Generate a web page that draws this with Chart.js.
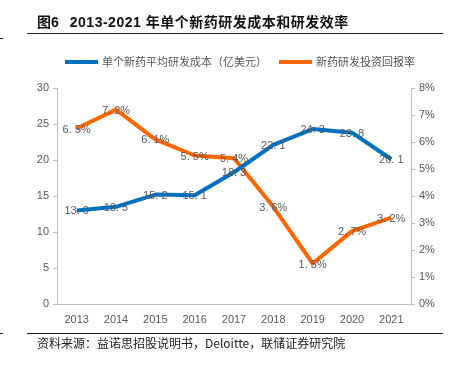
<!DOCTYPE html>
<html>
<head>
<meta charset="utf-8">
<script src="https://cdn.jsdelivr.net/npm/chart.js@4"></script>
<style>
  body { margin: 0; background: #fff; }
  #wrap { position: relative; width: 452px; height: 366px; overflow: hidden; font-family: "Liberation Sans", Arial, "Noto Sans CJK SC", sans-serif; }
  #chart { position: absolute; left: 0; top: 0; }
  .abs { position: absolute; white-space: nowrap; }
  .title { left: 37px; top: 11px; font-size: 14px; font-weight: bold; color: #111; }
  .title span { margin-left: 11px; letter-spacing: 0.5px; }
  .rule { height: 1px; background: #222; }
  .legend { top: 53px; font-size: 11px; color: #595959; font-family: "Noto Sans CJK SC", sans-serif; }
  .legend i { display: inline-block; width: 33px; height: 4px; vertical-align: middle; margin-right: 4px; position: relative; top: -1px; }
  .foot { left: 37px; top: 334px; font-size: 12px; color: #222; font-family: "Noto Sans CJK SC", sans-serif; }
</style>
</head>
<body>
<div id="wrap">
  <canvas id="chart" width="452" height="366"></canvas>
  <div class="abs title">图6<span>2013-2021 年单个新药研发成本和研发效率</span></div>
  <div class="abs rule" style="left:27px;top:33px;width:416px;"></div>
  <div class="abs rule" style="left:0;top:38px;width:3px;"></div>
  <div class="abs legend" style="left:65px;"><i style="background:#0070C0"></i>单个新药平均研发成本（亿美元）</div>
  <div class="abs legend" style="left:279px;"><i style="background:#FF6600"></i>新药研发投资回报率</div>
  <div class="abs rule" style="left:27px;top:333px;width:416px;"></div>
  <div class="abs rule" style="left:0;top:333px;width:3px;"></div>
  <div class="abs foot">资料来源：益诺思招股说明书，Deloitte，联储证券研究院</div>
</div>
<script>
const years = ["2013", "2014", "2015", "2016", "2017", "2018", "2019", "2020", "2021"];
const costValues = [13.0, 13.5, 15.2, 15.1, 18.3, 22.1, 24.3, 23.8, 20.1];
const returnValues = [6.5, 7.2, 6.1, 5.5, 5.4, 3.6, 1.5, 2.7, 3.2];
const costLabel = "单个新药平均研发成本（亿美元）";
const returnLabel = "新药研发投资回报率";

const axisColor = "#bfbfbf";
const tickColor = "#595959";
const tickFont = { family: "'Liberation Sans', Arial, sans-serif", size: 11 };

// data labels sit right on top of each point
const valueLabels = {
  id: "valueLabels",
  afterDatasetsDraw(chart) {
    const ctx = chart.ctx;
    ctx.save();
    ctx.font = "11px 'Liberation Sans', Arial, sans-serif";
    ctx.fillStyle = tickColor;
    ctx.textAlign = "center";
    ctx.textBaseline = "middle";
    chart.data.datasets.forEach((ds, i) => {
      chart.getDatasetMeta(i).data.forEach((pt, j) => {
        let txt = ds.data[j].toFixed(1).replace(".", ". ");
        if (ds.yAxisID === "y1") txt += "%";
        ctx.fillText(txt, pt.x, pt.y + 1);
      });
    });
    ctx.restore();
  }
};

new Chart(document.getElementById("chart"), {
  type: "line",
  data: {
    labels: years,
    datasets: [
      {
        label: costLabel,
        data: costValues,
        yAxisID: "y",
        borderColor: "#0070C0",
        backgroundColor: "#0070C0",
        borderWidth: 4,
        pointRadius: 0,
        tension: 0,
        borderJoinStyle: "round"
      },
      {
        label: returnLabel,
        data: returnValues,
        yAxisID: "y1",
        borderColor: "#FF6600",
        backgroundColor: "#FF6600",
        borderWidth: 4,
        pointRadius: 0,
        tension: 0,
        borderJoinStyle: "round"
      }
    ]
  },
  options: {
    responsive: false,
    animation: false,
    layout: { padding: { left: 0, right: 0, top: 88, bottom: 0 } },
    plugins: { legend: { display: false }, tooltip: { enabled: false } },
    scales: {
      x: {
        offset: true,
        grid: { display: false, drawTicks: false },
        border: { color: axisColor },
        ticks: { color: tickColor, font: tickFont, padding: 9 },
        afterFit: (s) => { s.height = 62; }
      },
      y: {
        position: "left",
        min: 0,
        max: 30,
        ticks: { stepSize: 5, color: tickColor, font: tickFont, padding: 4 },
        grid: { drawOnChartArea: false, tickLength: 4, color: axisColor },
        border: { color: axisColor },
        afterFit: (s) => { s.width = 57; }
      },
      y1: {
        position: "right",
        min: 0,
        max: 8,
        ticks: { stepSize: 1, color: tickColor, font: tickFont, padding: 4, callback: (v) => v + "%" },
        grid: { drawOnChartArea: false, tickLength: 4, color: axisColor },
        border: { color: axisColor },
        afterFit: (s) => { s.width = 41; }
      }
    }
  },
  plugins: [valueLabels]
});
</script>
</body>
</html>
